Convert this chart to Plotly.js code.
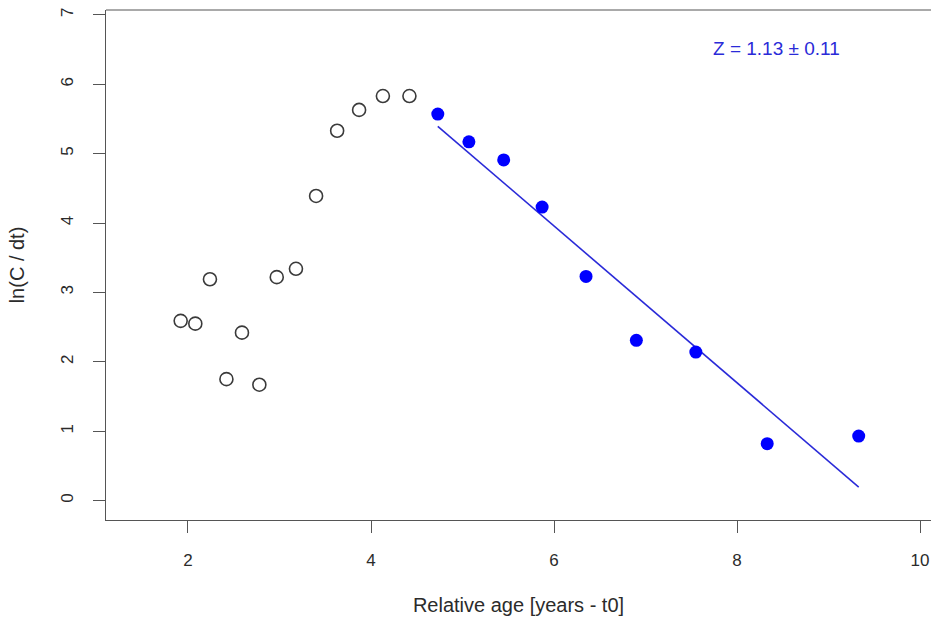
<!DOCTYPE html>
<html>
<head>
<meta charset="utf-8">
<script src="https://cdn.plot.ly/plotly-3.0.1.min.js"></script>
<style>
  html, body { margin: 0; padding: 0; background: #fff; }
  #chart { width: 931px; height: 620px; }
</style>
</head>
<body>
<div id="chart"></div>
<script>
// Ages on the ascending limb (not used in the fit)
const ageExcluded = [1.92, 2.08, 2.24, 2.42, 2.59, 2.78, 2.97, 3.18, 3.40, 3.63, 3.87, 4.13, 4.42];
const lnCatchExcluded = [2.59, 2.55, 3.19, 1.75, 2.42, 1.67, 3.22, 3.34, 4.39, 5.33, 5.63, 5.83, 5.83];

// Ages on the descending limb used for the catch curve regression
const ageFit = [4.73, 5.07, 5.45, 5.87, 6.35, 6.90, 7.55, 8.33, 9.33];
const lnCatchFit = [5.57, 5.17, 4.91, 4.23, 3.23, 2.31, 2.14, 0.82, 0.93];

// Total mortality estimate and its standard error
const Z = 1.13;
const Zse = 0.11;

const xTicks = [2, 4, 6, 8, 10];
const yTicks = [0, 1, 2, 3, 4, 5, 6, 7];

// Regression line with slope -Z through the mean of the fitted points
const mean = a => a.reduce((s, v) => s + v, 0) / a.length;
const intercept = mean(lnCatchFit) + Z * mean(ageFit);
const lineX = [Math.min(...ageFit), Math.max(...ageFit)];
const lineY = lineX.map(x => intercept - Z * x);

const FONT = 'Liberation Sans, Arial, sans-serif';
const INK = '#2b2b2b';

const traces = [
  {
    x: ageExcluded, y: lnCatchExcluded, type: 'scatter', mode: 'markers',
    marker: { symbol: 'circle-open', size: 13, color: '#3a3a3a', line: { width: 1.6, color: '#3a3a3a' } },
    hoverinfo: 'x+y'
  },
  {
    x: lineX, y: lineY, type: 'scatter', mode: 'lines',
    line: { color: '#2a2ad8', width: 1.6 },
    hoverinfo: 'skip'
  },
  {
    x: ageFit, y: lnCatchFit, type: 'scatter', mode: 'markers',
    marker: { symbol: 'circle', size: 13, color: '#0000ff' },
    hoverinfo: 'x+y'
  }
];

const layout = {
  width: 931, height: 620,
  margin: { l: 106, r: 0, t: 10, b: 100 },
  paper_bgcolor: '#fff', plot_bgcolor: '#fff',
  showlegend: false,
  font: { family: FONT, color: INK, size: 17 },
  xaxis: {
    range: [1.104, 10.12],
    tickvals: xTicks, ticktext: xTicks.map(String),
    ticks: 'outside', ticklen: 12, tickwidth: 1, tickcolor: '#555',
    showline: true, linecolor: '#555', linewidth: 1,
    showgrid: false, zeroline: false,
    ticklabelstandoff: 13,
    tickfont: { size: 17, color: INK },
    title: { text: 'Relative age [years - t0]', font: { size: 20, color: INK }, standoff: 28 }
  },
  yaxis: {
    range: [-0.28, 7.07],
    tickvals: yTicks, ticktext: yTicks.map(String),
    tickangle: -90,
    ticks: 'outside', ticklen: 12, tickwidth: 1, tickcolor: '#555',
    showline: true, linecolor: '#555', linewidth: 1,
    showgrid: false, zeroline: false,
    ticklabelstandoff: 13,
    tickfont: { size: 17, color: INK },
    title: { text: 'ln(C / dt)', font: { size: 20, color: INK }, standoff: 28 }
  },
  shapes: [
    // top edge of the plot box
    { type: 'line', xref: 'paper', yref: 'paper', x0: 0, x1: 1, y0: 1, y1: 1,
      line: { color: '#555', width: 1 } }
  ],
  annotations: [
    {
      x: 8.43, y: 6.52, xref: 'x', yref: 'y',
      text: 'Z = ' + Z.toFixed(2) + ' \u00b1 ' + Zse.toFixed(2),
      showarrow: false,
      font: { family: FONT, size: 19, color: '#2a2ad8' }
    }
  ]
};

Plotly.newPlot('chart', traces, layout, { displayModeBar: false, staticPlot: true });
</script>
</body>
</html>
